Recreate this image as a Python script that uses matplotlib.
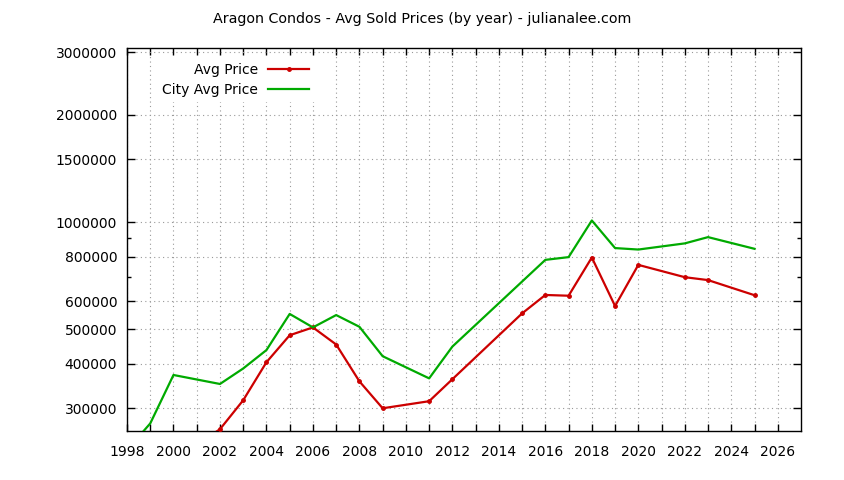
import matplotlib
matplotlib.use("Agg")
import matplotlib.pyplot as plt
from matplotlib.ticker import FixedLocator, NullFormatter

# data
years_avg = [2001, 2002, 2003, 2004, 2005, 2006, 2007, 2008, 2009, 2011, 2012,
             2015, 2016, 2017, 2018, 2019, 2020, 2022, 2023, 2025]
avg_price = [237000, 262000, 316000, 404000, 481000, 506000, 453000, 357000, 300000,
             314000, 362000, 554000, 624000, 621000, 795000, 581000, 758000, 700000,
             687000, 623000]

years_city = [1998, 1999, 2000, 2002, 2003, 2004, 2005, 2006, 2007, 2008, 2009, 2011,
              2012, 2016, 2017, 2018, 2019, 2020, 2022, 2023, 2025]
city_price = [229000, 272000, 372000, 351000, 388000, 437000, 552000, 506000, 548000,
              508000, 420000, 364000, 447000, 783000, 797000, 1010000, 845000, 837000,
              871000, 907000, 841000]

ytick_vals = [300000, 400000, 500000, 600000, 800000, 1000000, 1500000, 2000000, 3000000]
yminor_vals = [700000, 900000]
xtick_vals = list(range(1998, 2027, 2))

plt.rcParams['font.family'] = ['DejaVu Sans']
plt.rcParams['font.size'] = 10

fig = plt.figure(figsize=(8.44, 4.80), dpi=100)
ax = fig.add_axes([127 / 844, 1 - 431 / 480, 674 / 844, 383 / 480])

ax.plot(years_avg, avg_price, color='#cc0000', lw=1.6, marker='o', ms=2.5,
        label='Avg Price', zorder=3)
ax.plot(years_city, city_price, color='#00aa00', lw=1.6, label='City Avg Price', zorder=3)

ax.set_yscale('log')
ax.set_xlim(1998, 2027)
ax.set_ylim(259000, 3080000)

ax.yaxis.set_major_locator(FixedLocator(ytick_vals))
ax.yaxis.set_major_formatter(plt.FuncFormatter(lambda v, p: f"{int(round(v))}"))
ax.yaxis.set_minor_locator(FixedLocator(yminor_vals))
ax.yaxis.set_minor_formatter(NullFormatter())
ax.xaxis.set_major_locator(FixedLocator(xtick_vals))
ax.xaxis.set_minor_locator(FixedLocator(list(range(1999, 2027, 2))))

ax.tick_params(which='both', direction='in', top=True, right=True, colors='black',
               labelsize=10, width=1)
ax.tick_params(axis='y', which='major', length=6, pad=7)
ax.tick_params(axis='y', which='minor', length=3)
ax.tick_params(axis='x', which='both', length=5)
ax.tick_params(axis='x', which='major', pad=10)

grid_kw = dict(color='#999999', lw=0.8, linestyle=(0, (1, 3)))
ax.grid(True, axis='y', which='major', **grid_kw)
ax.grid(True, axis='x', which='both', **grid_kw)
ax.set_axisbelow(True)

for s in ax.spines.values():
    s.set_linewidth(1)
    s.set_color('black')

leg = ax.legend(loc='upper right', bbox_to_anchor=((315 - 127) / 674, (431 - 57) / 383),
                borderaxespad=0, markerfirst=False, frameon=True, fancybox=False,
                edgecolor='none', facecolor='white', framealpha=1,
                handlelength=3.0, handletextpad=0.7, labelspacing=0.45, fontsize=10)
leg.set_zorder(5)

fig.text(0.5, 1 - 19 / 480, 'Aragon Condos - Avg Sold Prices (by year) - julianalee.com',
         ha='center', va='center', fontsize=10.3)

fig.savefig('out.png', dpi=100)
